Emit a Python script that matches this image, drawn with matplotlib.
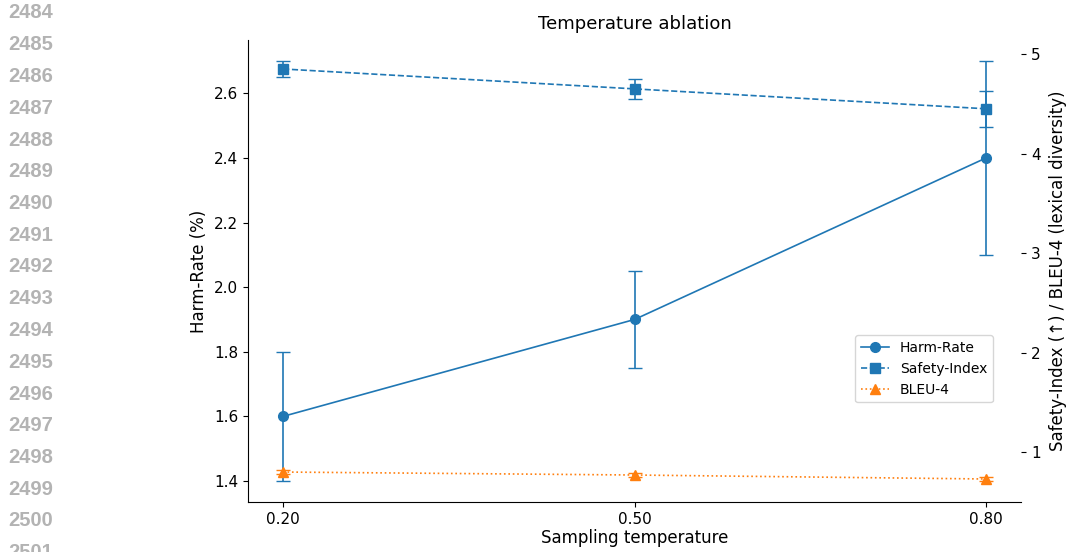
import numpy as np
import matplotlib
matplotlib.use('Agg')
import matplotlib.pyplot as plt

# data
temps = [0.20, 0.50, 0.80]
temp_labels = ['0.20', '0.50', '0.80']
harm_rate = [1.60, 1.90, 2.40]
harm_err = [0.20, 0.15, 0.30]
safety_idx = [4.85, 4.65, 4.45]
safety_err = [0.08, 0.10, 0.18]
bleu4 = [0.80, 0.77, 0.73]
bleu_err = [0.02, 0.02, 0.02]
line_nums = list(range(2484, 2502))

fig = plt.figure(figsize=(10.66, 5.52), dpi=100)
ax = fig.add_axes([0.2326, 0.0906, 0.7254, 0.8369])
ax2 = ax.twinx()

blue = '#1f77b4'
orange = '#ff7f0e'

l1 = ax.errorbar(temps, harm_rate, yerr=harm_err, color=blue, marker='o', ms=7,
                 lw=1.2, capsize=5, ls='-', label='Harm-Rate')
l2 = ax2.errorbar(temps, safety_idx, yerr=safety_err, color=blue, marker='s', ms=7,
                  lw=1.2, capsize=5, ls='--', label='Safety-Index')
l3 = ax2.errorbar(temps, bleu4, yerr=bleu_err, color=orange, marker='^', ms=7,
                  lw=1.2, capsize=5, ls=':', label='BLEU-4')

ax.set_xticks(temps)
ax.set_xticklabels(temp_labels)
ax.set_yticks([1.4, 1.6, 1.8, 2.0, 2.2, 2.4, 2.6])
ax2.set_yticks([1, 2, 3, 4, 5])

for a in (ax, ax2):
    a.spines['top'].set_visible(False)
    a.tick_params(labelsize=11)
ax2.spines['right'].set_visible(False)
ax2.spines['left'].set_visible(False)
ax2.spines['bottom'].set_visible(False)
ax.spines['right'].set_visible(False)

ax.set_title('Temperature ablation', fontsize=13, pad=8)
ax.set_xlabel('Sampling temperature', fontsize=12, labelpad=2)
ax.set_ylabel('Harm-Rate (%)', fontsize=12)
ax2.set_ylabel('Safety-Index (↑) / BLEU-4 (lexical diversity)', fontsize=12, labelpad=6)

# legend shows plain line+marker handles (no error bar glyph)
ax2.legend([l1[0], l2[0], l3[0]], ['Harm-Rate', 'Safety-Index', 'BLEU-4'],
           loc='center right', bbox_to_anchor=(0.972, 0.288), fontsize=10)

# paper line numbers down the left margin
for i, n in enumerate(line_nums):
    fig.text(8 / 1066, 1 - (13 + 31.75 * i) / 552, str(n), color='#b3b3b3',
             fontsize=14.5, fontweight='bold', family='Liberation Sans',
             va='center', ha='left')

fig.savefig('out.png', dpi=100)
